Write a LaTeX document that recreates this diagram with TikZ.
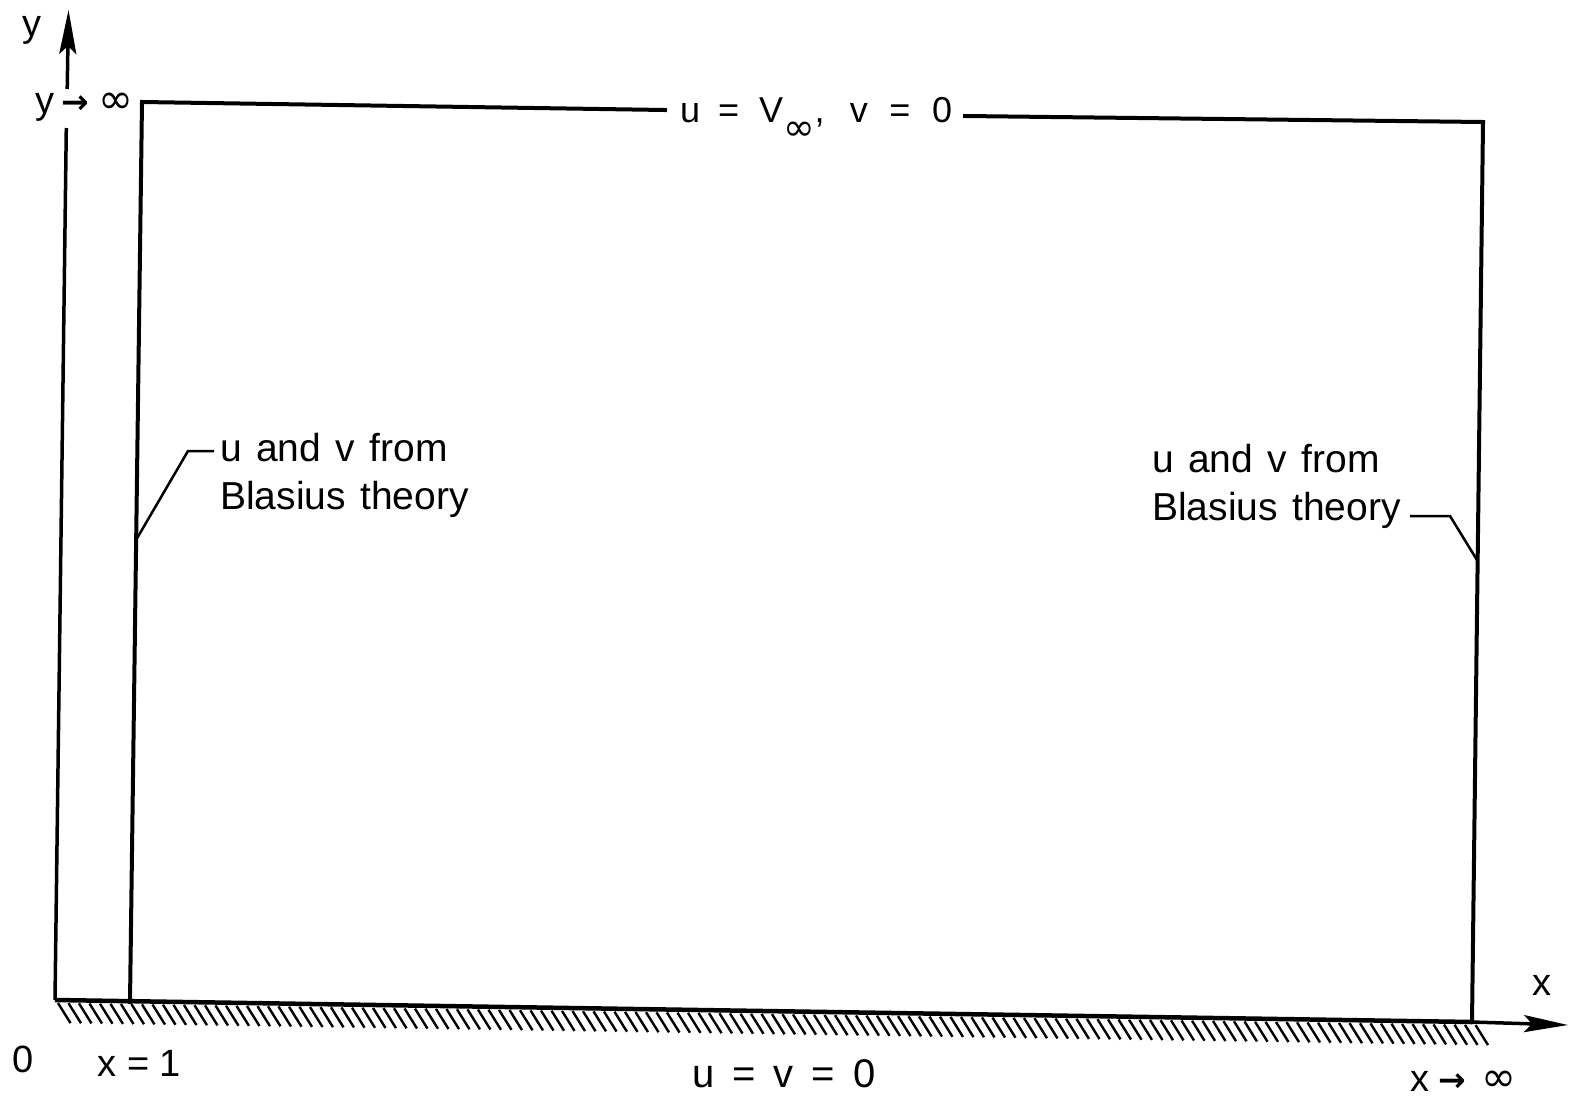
\documentclass[tikz,border=0pt]{standalone}
\usepackage{fontspec}
\setmainfont{Liberation Sans}
\newfontfamily\symf{DejaVu Sans}
\usetikzlibrary{arrows.meta}
\newcommand\gp[1]{\hspace{#1em}}
\newcommand\arr{{\symf\bfseries\fontsize{33}{33}\selectfont →}}
\newcommand\infy{{\symf\fontsize{42}{42}\selectfont ∞}}
\newcommand\subinfy{{\symf\fontsize{38}{38}\selectfont ∞}}
\newcommand\notefont{\fontsize{39}{48}\selectfont\spaceskip=0.37em\relax}
\begin{document}
\begin{tikzpicture}[x=1pt,y=-1pt,
  frame/.style={line width=4pt, line join=miter, line cap=rect},
  axisline/.style={line width=3.5pt},
  axisarrow/.style={line width=3.5pt, -{Stealth[length=44pt,width=17pt,inset=8pt]}},
  leader/.style={line width=2.5pt},
  hatchline/.style={line width=2.4pt},
  lab/.style={inner sep=0pt, anchor=base west, font=\fontsize{38}{46}\selectfont},
  note/.style={inner sep=0pt, anchor=north west, align=left, font=\notefont}]
\useasboundingbox (0,0) rectangle (1570,1098);
% key points
\coordinate (O) at (55,1000);
\coordinate (ygapbot) at (66.3,128);
\coordinate (ygaptop) at (67.2,89);
\coordinate (ytip) at (68.5,10);
\coordinate (xtip) at (1568,1025);
\coordinate (LB) at (130,1002);
\coordinate (LT) at (142,102);
\coordinate (TL) at (665,110);
\coordinate (TR) at (965,116);
\coordinate (RT) at (1483,122);
\coordinate (RB) at (1472,1022);
% hatching below the wall
\foreach \x in {58,68.5,...,1480}{
  \pgfmathsetmacro{\yw}{1000+(\x-55)/1417*22+3}
  \draw[hatchline] (\x,\yw) -- ++(12.5,20);
}
% wall and x-axis
\draw[line width=4.5pt] (O) -- (RB);
\draw[axisarrow] (RB) -- (xtip);
% y-axis with gap
\draw[axisline] (O) -- (ygapbot);
\draw[axisarrow] (ygaptop) -- (ytip);
% computational boundary
\draw[frame] (LB) -- (LT) -- (TL);
\draw[frame] (TR) -- (RT) -- (RB);
% leaders
\coordinate (la) at (136,540);
\coordinate (lb) at (188,451);
\coordinate (lc) at (214,451);
\draw[leader] (la) -- (lb) -- (lc);
\coordinate (ra) at (1477,560);
\coordinate (rb) at (1450,516);
\coordinate (rc) at (1410,516);
\draw[leader] (ra) -- (rb) -- (rc);
% labels
\node[lab] (ylab) at (22,36) {y};
\node[lab] (yinf) at (35,113) {y\gp{0.2}\arr\gp{0.25}\infy};
\node[lab, font=\fontsize{36}{40}\selectfont] (toplab) at (680,122)
  {u\gp{0.5}=\gp{0.55}V\raisebox{-0.5em}{\subinfy},\gp{0.7}v\gp{0.6}=\gp{0.6}0};
\node[lab] (xlab) at (1532,995) {x};
\node[lab] (xinf) at (1410,1091) {x\gp{0.25}\arr\gp{0.4}\infy};
\node[lab] (zero) at (12,1072) {0};
\node[lab] (xone) at (97,1076) {x\gp{0.3}=\gp{0.25}1};
\node[lab, font=\fontsize{40}{46}\selectfont] (wall) at (692,1087) {u\gp{0.45}=\gp{0.45}v\gp{0.45}=\gp{0.45}0};
\node[note] (leftnote) at (220,433) {u and v from\\Blasius theory};
\node[note] (rightnote) at (1152,444) {u and v from\\Blasius theory};
\end{tikzpicture}
\end{document}
